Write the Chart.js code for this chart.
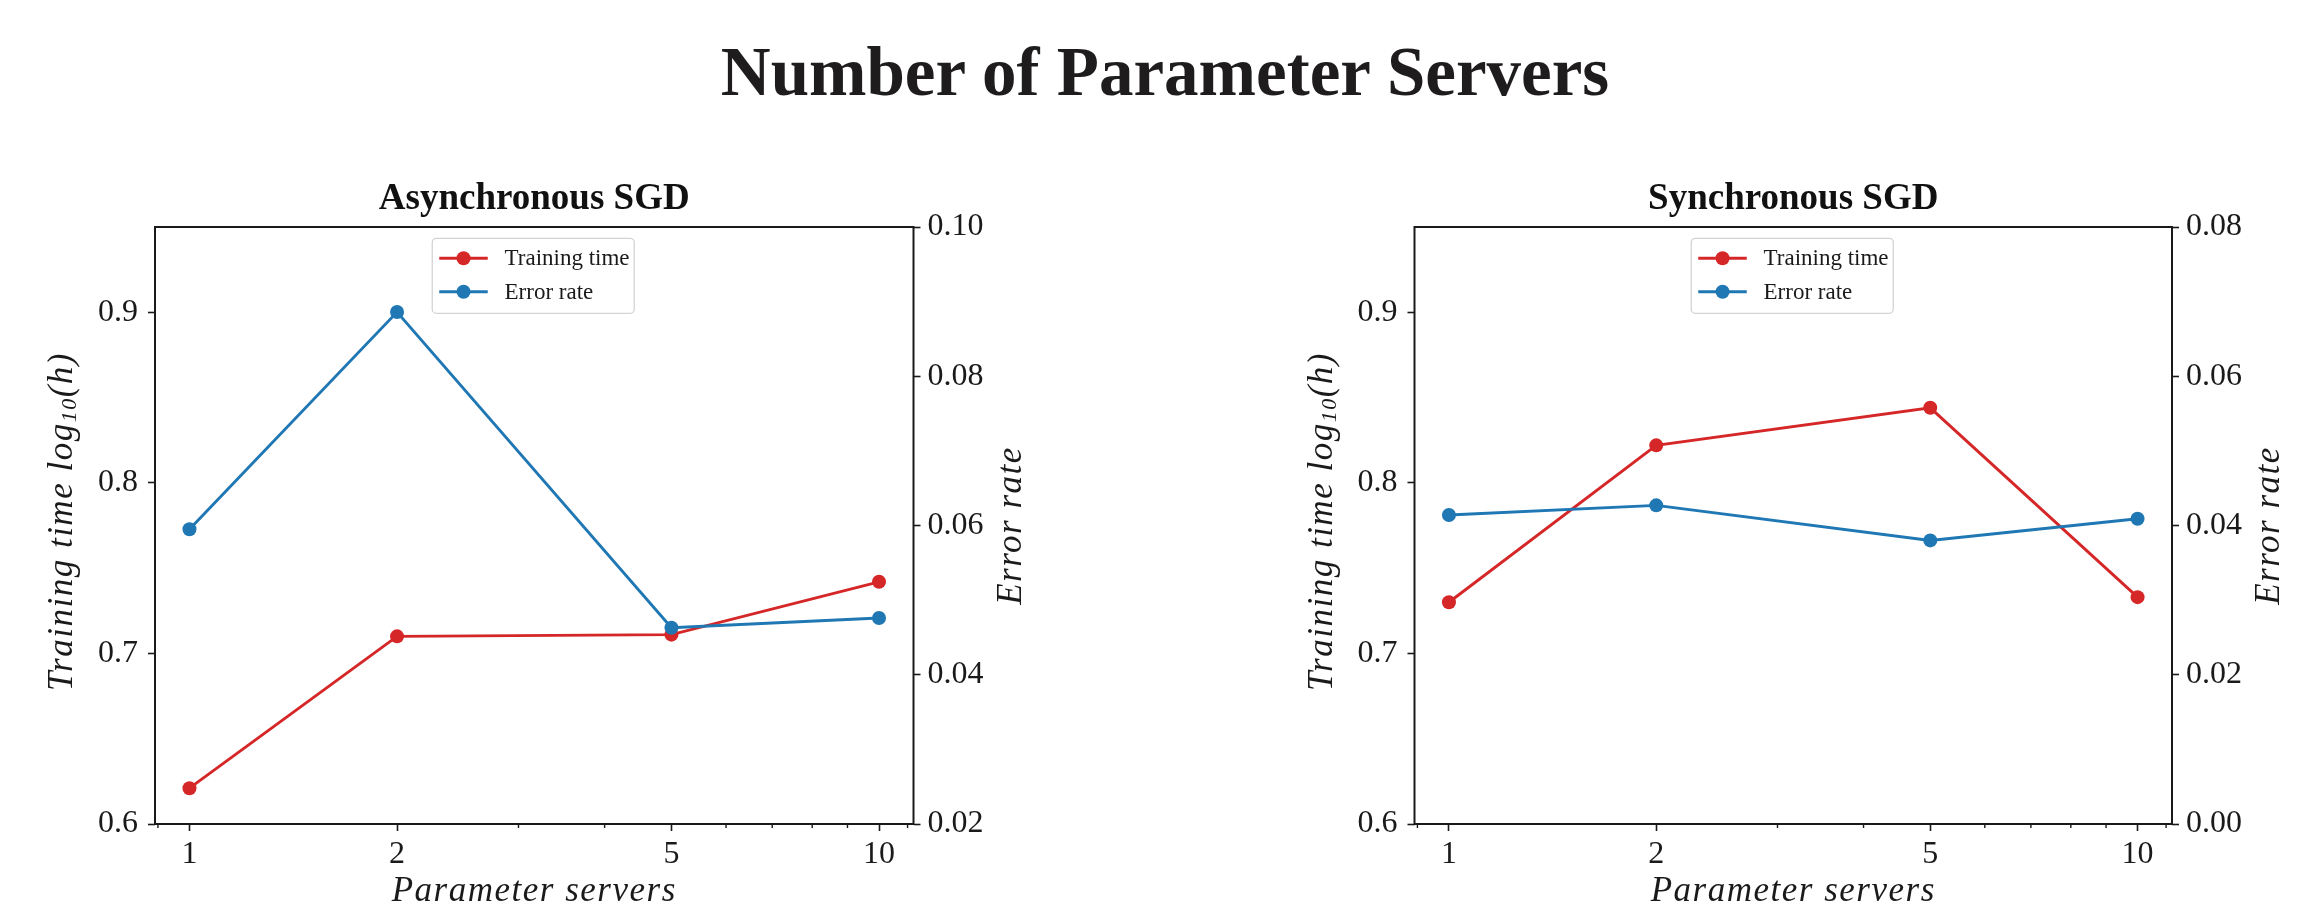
<!DOCTYPE html>
<html>
<head>
<meta charset="utf-8">
<title>Number of Parameter Servers</title>
<script src="https://cdn.jsdelivr.net/npm/chart.js@4/dist/chart.umd.min.js"></script>
<style>
  html, body { margin: 0; padding: 0; background: #ffffff; }
  body { width: 2320px; height: 915px; position: relative; overflow: hidden; }
  #mainTitle {
    position: absolute; left: 5px; top: 38px; width: 2320px; margin: 0;
    text-align: center; color: #1e1c1d;
    font: bold 69px/69px "Liberation Serif", "DejaVu Serif", serif;
  }
  canvas { position: absolute; top: 0; }
  #asyncChart { left: 0; }
  #syncChart { left: 1160px; }
</style>
</head>
<body>
<h1 id="mainTitle">Number of Parameter Servers</h1>
<canvas id="asyncChart" width="1160" height="915"></canvas>
<canvas id="syncChart" width="1160" height="915"></canvas>
<script>
// Number of parameter servers used in each run
const serverCounts = [1, 2, 5, 10];

// Asynchronous SGD: training time (log10 hours) and error rate
const asyncTrainingTime = [0.621, 0.710, 0.711, 0.742];
const asyncErrorRate = [0.0595, 0.0886, 0.0463, 0.0476];

// Synchronous SGD: training time (log10 hours) and error rate
const syncTrainingTime = [0.730, 0.822, 0.844, 0.733];
const syncErrorRate = [0.0414, 0.0427, 0.0380, 0.0409];

// Tick values
const serverTicks = [1, 2, 5, 10];
const serverMinorTicks = [0.9, 3, 4, 6, 7, 8, 9, 11];
const timeTicks = [0.6, 0.7, 0.8, 0.9];
const asyncErrorTicks = [0.02, 0.04, 0.06, 0.08, 0.10];
const syncErrorTicks = [0.00, 0.02, 0.04, 0.06, 0.08];

// Series names and axis titles
const seriesNames = ['Training time', 'Error rate'];
const xAxisTitle = 'Parameter servers';
const timeAxisTitle = [['Training time log', false], ['10', true], ['(h)', false]];
const errorAxisTitle = 'Error rate';

const FONT = '"Liberation Serif", "DejaVu Serif", serif';
const INK = '#1a1a1a';
const RED = '#d62728';
const BLUE = '#1f77b4';

// Full box around the plot area plus short minor ticks on the log axis
const framePlugin = {
  id: 'axesFrame',
  afterDatasetsDraw(chart) {
    const { ctx, chartArea: a } = chart;
    ctx.save();
    const xs = chart.scales.x;
    ctx.strokeStyle = INK;
    ctx.lineWidth = 1.4;
    ctx.beginPath();
    serverMinorTicks.forEach(v => {
      const px = xs.getPixelForValue(v);
      ctx.moveTo(px, a.bottom);
      ctx.lineTo(px, a.bottom + 4);
    });
    ctx.stroke();
    ctx.lineWidth = 2;
    ctx.strokeRect(a.left, a.top, a.right - a.left, a.bottom - a.top);
    ctx.restore();
  }
};

// Boxed legend in the upper centre of the plot, built from the datasets
const legendPlugin = {
  id: 'boxedLegend',
  afterDraw(chart) {
    const { ctx, chartArea: a } = chart;
    const w = 202, h = 75, rowGap = 33.4;
    const x0 = (a.left + a.right) / 2 - w / 2 - 1;
    const y0 = a.top + 11.3;
    ctx.save();
    ctx.beginPath();
    ctx.roundRect(x0, y0, w, h, 4);
    ctx.fillStyle = 'rgba(255,255,255,0.85)';
    ctx.fill();
    ctx.strokeStyle = '#d4d4d4';
    ctx.lineWidth = 1.3;
    ctx.stroke();
    ctx.font = '23px ' + FONT;
    ctx.textBaseline = 'middle';
    ctx.textAlign = 'left';
    chart.data.datasets.forEach((ds, i) => {
      const cy = y0 + 20 + i * rowGap;
      ctx.strokeStyle = ds.borderColor;
      ctx.lineWidth = ds.borderWidth;
      ctx.beginPath();
      ctx.moveTo(x0 + 7, cy);
      ctx.lineTo(x0 + 55.5, cy);
      ctx.stroke();
      ctx.fillStyle = ds.borderColor;
      ctx.beginPath();
      ctx.arc(x0 + 31.3, cy, ds.pointRadius, 0, Math.PI * 2);
      ctx.fill();
      ctx.fillStyle = INK;
      ctx.fillText(ds.label, x0 + 72.3, cy + 1);
    });
    ctx.restore();
  }
};

// Italic axis titles; the left one carries a subscript, both vertical ones read upward
const axisTitlePlugin = {
  id: 'axisTitles',
  afterDraw(chart, args, opts) {
    const { ctx, chartArea: a } = chart;
    const size = 35, subSize = 22, subShift = 4;
    ctx.save();
    ctx.fillStyle = INK;
    ctx.letterSpacing = '1.5px';
    ctx.textBaseline = 'alphabetic';

    ctx.font = `italic ${size}px ${FONT}`;
    ctx.textAlign = 'center';
    ctx.fillText(opts.x, (a.left + a.right) / 2, a.bottom + 77);

    ctx.save();
    ctx.translate(a.right + 107, (a.top + a.bottom) / 2);
    ctx.rotate(-Math.PI / 2);
    ctx.fillText(opts.right, 0, 0);
    ctx.restore();

    ctx.save();
    ctx.translate(a.left - 83, (a.top + a.bottom) / 2 - 4);
    ctx.rotate(-Math.PI / 2);
    ctx.textAlign = 'left';
    const pieces = opts.left.map(([text, sub]) => {
      ctx.font = `italic ${sub ? subSize : size}px ${FONT}`;
      return { text, sub, w: ctx.measureText(text).width };
    });
    const total = pieces.reduce((s, p) => s + p.w, 0);
    let x = -total / 2;
    pieces.forEach(p => {
      ctx.font = `italic ${p.sub ? subSize : size}px ${FONT}`;
      ctx.fillText(p.text, x, p.sub ? subShift : 0);
      x += p.w;
    });
    ctx.restore();
    ctx.restore();
  }
};

function tickGrid() {
  return {
    display: true, drawOnChartArea: false, drawTicks: true,
    tickLength: 7, tickColor: INK, tickWidth: 1.6
  };
}

function makeChart(canvasId, title, timeValues, errorValues, errorMin, errorMax, errorTicks, leftWidth, rightWidth) {
  const points = vals => serverCounts.map((s, i) => ({ x: s, y: vals[i] }));
  const tickFont = { family: FONT, size: 32 };
  return new Chart(document.getElementById(canvasId), {
    type: 'line',
    data: {
      datasets: [
        {
          label: seriesNames[0], data: points(timeValues), yAxisID: 'y',
          borderColor: RED, backgroundColor: RED,
          pointBackgroundColor: RED, pointBorderColor: RED,
          pointRadius: 7, pointBorderWidth: 0, borderWidth: 2.9,
          tension: 0, order: 2
        },
        {
          label: seriesNames[1], data: points(errorValues), yAxisID: 'y1',
          borderColor: BLUE, backgroundColor: BLUE,
          pointBackgroundColor: BLUE, pointBorderColor: BLUE,
          pointRadius: 7, pointBorderWidth: 0, borderWidth: 2.9,
          tension: 0, order: 1
        }
      ]
    },
    options: {
      responsive: false,
      animation: false,
      devicePixelRatio: 1,
      layout: { padding: { top: 176.8, left: 0, right: 0, bottom: 0 } },
      plugins: {
        legend: { display: false },
        tooltip: { enabled: false },
        title: {
          display: true, text: title, fullSize: false, color: '#111',
          font: { family: FONT, size: 37, weight: 'bold', lineHeight: 1.2 },
          padding: { top: 0, bottom: 5.8 }
        },
        axisTitles: { x: xAxisTitle, left: timeAxisTitle, right: errorAxisTitle }
      },
      scales: {
        x: {
          type: 'logarithmic', position: 'bottom', bounds: 'data',
          min: Math.pow(10, -0.05), max: Math.pow(10, 1.05),
          afterBuildTicks: s => { s.ticks = serverTicks.map(v => ({ value: v })); },
          afterFit: s => { s.height = 91; },
          ticks: {
            callback: v => String(v), font: tickFont, color: INK,
            padding: 4, maxRotation: 0, autoSkip: false
          },
          grid: tickGrid(),
          border: { display: false }
        },
        y: {
          type: 'linear', position: 'left', bounds: 'data', min: 0.6, max: 0.95,
          afterBuildTicks: s => { s.ticks = timeTicks.map(v => ({ value: v })); },
          afterFit: s => { s.width = leftWidth; },
          ticks: { callback: v => v.toFixed(1), font: tickFont, color: INK, padding: 10 },
          grid: tickGrid(),
          border: { display: false }
        },
        y1: {
          type: 'linear', position: 'right', bounds: 'data', min: errorMin, max: errorMax,
          afterBuildTicks: s => { s.ticks = errorTicks.map(v => ({ value: v })); },
          afterFit: s => { s.width = rightWidth; },
          ticks: { callback: v => v.toFixed(2), font: tickFont, color: INK, padding: 7 },
          grid: tickGrid(),
          border: { display: false }
        }
      }
    },
    plugins: [framePlugin, legendPlugin, axisTitlePlugin]
  });
}

makeChart('asyncChart', 'Asynchronous SGD', asyncTrainingTime, asyncErrorRate,
  0.02, 0.10, asyncErrorTicks, 155, 246.5);
makeChart('syncChart', 'Synchronous SGD', syncTrainingTime, syncErrorRate,
  0.00, 0.08, syncErrorTicks, 254.5, 148);
</script>
</body>
</html>
